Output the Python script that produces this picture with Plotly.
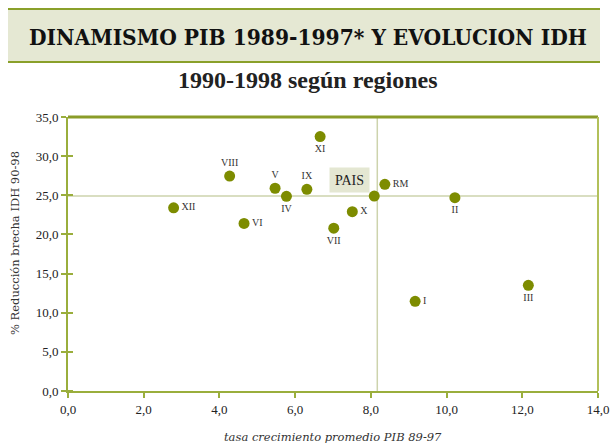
import plotly.graph_objects as go

# datos
regiones = ["I", "II", "III", "IV", "V", "VI", "VII", "VIII", "IX", "X", "XI", "XII", "RM"]
pib = [9.17, 10.22, 12.16, 5.77, 5.47, 4.65, 7.02, 4.27, 6.31, 7.51, 6.66, 2.79, 8.37]
idh = [11.45, 24.7, 13.5, 24.87, 25.9, 21.4, 20.8, 27.45, 25.76, 22.9, 32.5, 23.4, 26.4]
pos_texto = ["middle right", "bottom center", "bottom center", "bottom center", "top center",
             "middle right", "bottom center", "top center", "top center", "middle right",
             "bottom center", "middle right", "middle right"]

pais_pib = 8.09
pais_idh = 24.9
linea_pib = 8.17
linea_idh = 24.9

x_ticks = [0, 2, 4, 6, 8, 10, 12, 14]
y_ticks = [0, 5, 10, 15, 20, 25, 30, 35]

W, H = 611, 444
L, R, T, B = 68, 13, 117, 53
pw, ph = W - L - R, H - T - B


def px_x(p):
    return (p - L) / pw


def px_y(p):
    return (H - B - p) / ph


verde = "#7d8c00"
borde = "#9aae3c"
serif = "Liberation Serif, Times New Roman, serif"
serif2 = "DejaVu Serif, serif"

fig = go.Figure()

fig.add_trace(go.Scatter(
    x=pib + [pais_pib], y=idh + [pais_idh],
    mode="markers+text",
    text=regiones + [""],
    textposition=pos_texto + ["top center"],
    textfont=dict(family=serif, size=10, color="#333333"),
    marker=dict(color=verde, size=11),
    hoverinfo="skip", showlegend=False, cliponaxis=False,
))

shapes = [
    # lineas de referencia pais
    dict(type="line", xref="x", yref="paper", x0=linea_pib, x1=linea_pib, y0=0, y1=1,
         line=dict(color="#cdd3ad", width=1.5), layer="below"),
    dict(type="line", xref="paper", yref="y", x0=0, x1=1, y0=linea_idh, y1=linea_idh,
         line=dict(color="#cdd3ad", width=1.5), layer="below"),
    # marco superior y derecho
    dict(type="line", xref="paper", yref="paper", x0=0, x1=1, y0=1, y1=1,
         line=dict(color="#8a9c28", width=3)),
    dict(type="line", xref="paper", yref="paper", x0=1, x1=1, y0=0, y1=1,
         line=dict(color="#b2c05a", width=2)),
    # banda del titulo
    dict(type="rect", xref="paper", yref="paper", x0=px_x(8), x1=px_x(600), y0=px_y(62), y1=px_y(9),
         fillcolor="#e5e8d3", line=dict(width=0), layer="below"),
    dict(type="line", xref="paper", yref="paper", x0=px_x(8), x1=px_x(600), y0=px_y(9), y1=px_y(9),
         line=dict(color="#8aa02a", width=2)),
    dict(type="line", xref="paper", yref="paper", x0=px_x(8), x1=px_x(600), y0=px_y(62), y1=px_y(62),
         line=dict(color="#8aa02a", width=2)),
]

annotations = [
    dict(text="<b>DINAMISMO PIB 1989-1997* Y EVOLUCION IDH</b>", xref="paper", yref="paper",
         x=px_x(308), y=px_y(37), showarrow=False, xanchor="center", yanchor="middle",
         font=dict(family="DejaVu Serif Condensed, Liberation Serif, serif", size=22.5, color="#111111")),
    dict(text="<b>1990-1998 según regiones</b>", xref="paper", yref="paper",
         x=px_x(308), y=px_y(80), showarrow=False, xanchor="center", yanchor="middle",
         font=dict(family=serif, size=24, color="#222222")),
    dict(text="PAIS", xref="paper", yref="paper", x=px_x(349.5), y=px_y(180),
         showarrow=False, xanchor="center", yanchor="middle", width=37, height=22,
         bgcolor="#e4e7d2", font=dict(family=serif, size=14, color="#222222")),
    # titulos de ejes
    dict(text="<i>tasa crecimiento promedio PIB 89-97</i>", xref="paper", yref="paper",
         x=px_x(333), y=px_y(437), showarrow=False, xanchor="center", yanchor="middle",
         font=dict(family=serif2, size=11.5, color="#333333")),
    dict(text="% Reducción brecha IDH 90-98", xref="paper", yref="paper",
         x=px_x(15), y=px_y(243), showarrow=False, xanchor="center", yanchor="middle",
         textangle=-90, font=dict(family=serif2, size=11.5, color="#333333")),
]

fig.update_layout(
    width=W, height=H,
    margin=dict(l=L, r=R, t=T, b=B, autoexpand=False),
    paper_bgcolor="white", plot_bgcolor="white",
    separators=",.",
    shapes=shapes, annotations=annotations,
    font=dict(family=serif, color="#222222"),
)

fig.update_xaxes(
    range=[0, 14], tickvals=x_ticks, tickformat=".1f", automargin=False,
    showgrid=False, zeroline=False,
    showline=True, linecolor=borde, linewidth=2,
    ticks="outside", ticklen=5, tickcolor=borde, tickwidth=1.5,
    tickfont=dict(family=serif, size=13, color="#222222"),
)
fig.update_yaxes(
    range=[0, 35], tickvals=y_ticks, tickformat=".1f", automargin=False,
    showgrid=False, zeroline=False,
    showline=True, linecolor=borde, linewidth=2,
    ticks="outside", ticklen=5, tickcolor=borde, tickwidth=1.5,
    tickfont=dict(family=serif, size=13, color="#222222"),
    minor=dict(tickvals=y_ticks, ticks="inside", ticklen=5, tickcolor=borde, tickwidth=1.5),
)

fig.write_html("out.html", config={"displayModeBar": False},
               post_script="document.body.style.margin='0';")
